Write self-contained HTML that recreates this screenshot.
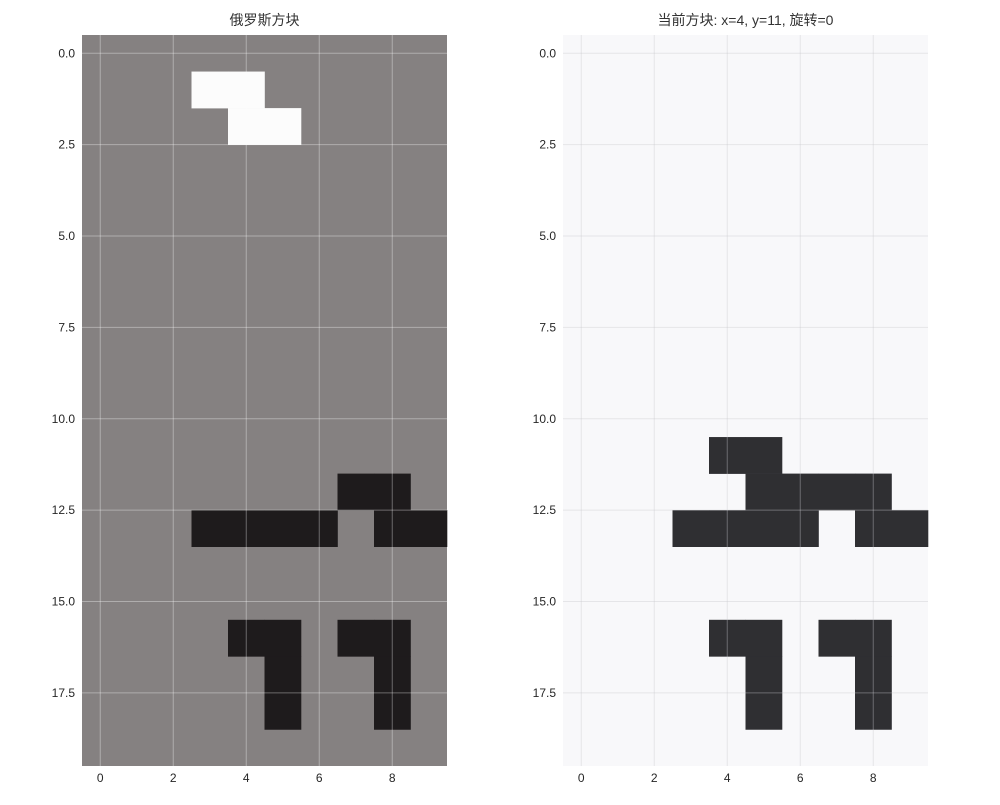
<!DOCTYPE html>
<html><head><meta charset="utf-8"><style>
body{margin:0;background:#fff;font-family:"Liberation Sans","Noto Sans CJK SC",sans-serif}
</style></head><body>
<svg id="chart" width="1000" height="800" xmlns="http://www.w3.org/2000/svg"></svg>
<script>
// Board data: 0 empty, 1 placed block, 2 current piece
const boardRows = [
"0000000000","0002200000","0000220000","0000000000","0000000000",
"0000000000","0000000000","0000000000","0000000000","0000000000",
"0000000000","0000000000","0000000110","0001111011","0000000000",
"0000000000","0000110110","0000010010","0000010010","0000000000"];
const previewRows = [
"0000000000","0000000000","0000000000","0000000000","0000000000",
"0000000000","0000000000","0000000000","0000000000","0000000000",
"0000000000","0000110000","0000011110","0001111011","0000000000",
"0000000000","0000110110","0000010010","0000010010","0000000000"];
const xTicks = [0,2,4,6,8];
const yTicks = [0,2.5,5,7.5,10,12.5,15,17.5];
const yTickLabels = ["0.0","2.5","5.0","7.5","10.0","12.5","15.0","17.5"];
const titles = ["俄罗斯方块","当前方块: x=4, y=11, 旋转=0"];

const svg = document.getElementById('chart');
const NS = 'http://www.w3.org/2000/svg';
function mk(tag, attrs, parent){const e=document.createElementNS(NS,tag);for(const k in attrs)e.setAttribute(k,attrs[k]);(parent||svg).appendChild(e);return e;}

const panels = [
 {x0:82,x1:447,rows:boardRows,bg:'#858181',colors:{'1':'#1e1b1c','2':'#fcfcfc'},grid:'rgba(255,255,255,0.35)',name:'board'},
 {x0:563,x1:928,rows:previewRows,bg:'#f8f8fa',colors:{'1':'#2f2f32'},grid:'rgba(200,200,205,0.4)',name:'preview'}
];
const y0=35,y1=766;
panels.forEach((p,pi)=>{
  const g=mk('g',{});
  
  
  const sx=v=>p.x0+(v+0.5)*(p.x1-p.x0)/10;
  const sy=v=>y0+(v+0.5)*(y1-y0)/20;
  const bg=mk('rect',{x:p.x0,y:y0,width:p.x1-p.x0,height:y1-y0,fill:p.bg},g);
  
  
  p.rows.forEach((row,r)=>{[...row].forEach((c,ci)=>{
    if(c==='0')return;
    const cell=mk('rect',{x:sx(ci-0.5),y:sy(r-0.5),width:sx(ci+0.5)-sx(ci-0.5)+0.3,height:sy(r+0.5)-sy(r-0.5)+0.3,fill:p.colors[c]||p.colors['1']},g);
    
    
  });});
  xTicks.forEach(t=>{
    const l=mk('line',{x1:sx(t),x2:sx(t),y1:y0,y2:y1,stroke:p.grid,'stroke-width':1},g);
    
    
    const tx=mk('text',{x:sx(t),y:782,'font-size':12,'text-anchor':'middle',fill:'#262626'},g);
    tx.textContent=t;
    
    
  });
  yTicks.forEach((t,i)=>{
    const l=mk('line',{x1:p.x0,x2:p.x1,y1:sy(t),y2:sy(t),stroke:p.grid,'stroke-width':1},g);
    
    
    const tx=mk('text',{x:p.x0-7,y:sy(t)+4,'font-size':12,'text-anchor':'end',fill:'#262626'},g);
    tx.textContent=yTickLabels[i];
    
    
  });
  const tt=mk('text',{x:(p.x0+p.x1)/2,y:25,'font-size':14,'text-anchor':'middle',fill:'#333'},g);
  tt.textContent=titles[pi];
  
  
});
</script>
</body></html>
